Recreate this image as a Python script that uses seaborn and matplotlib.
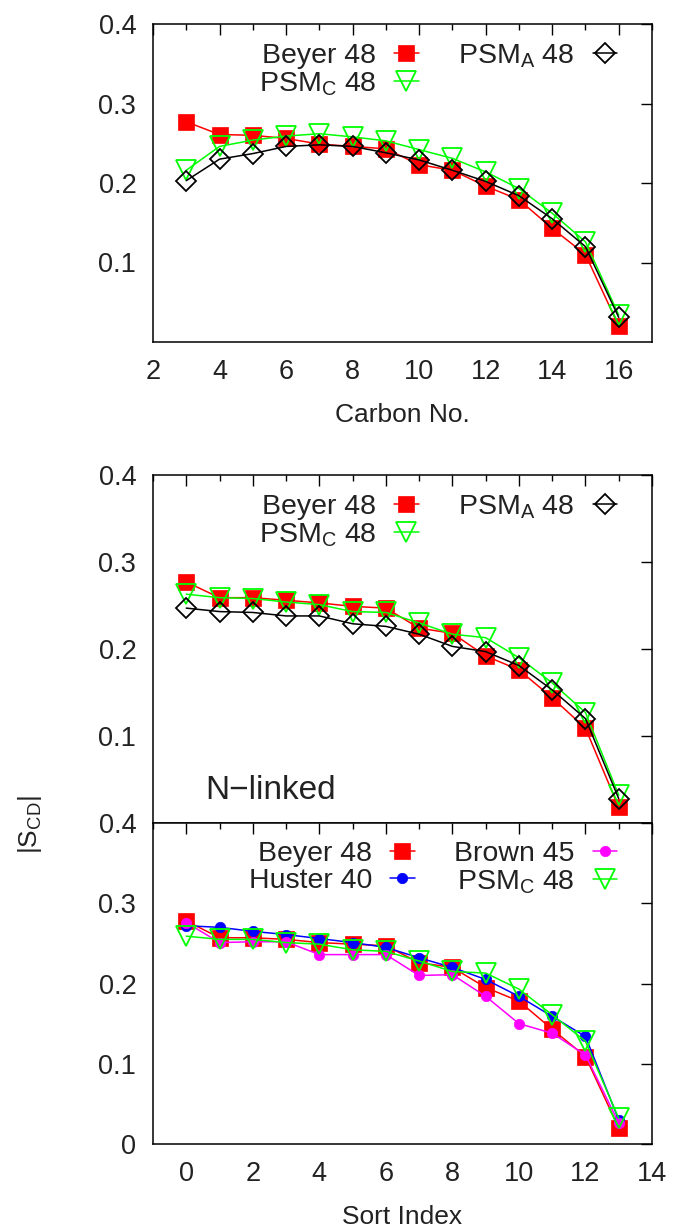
import numpy as np
import pandas as pd
import matplotlib
matplotlib.use("Agg")
import matplotlib.pyplot as plt
from matplotlib.ticker import MultipleLocator
import seaborn as sns

# ---------------- data ----------------
carbon_no = [3, 4, 5, 6, 7, 8, 9, 10, 11, 12, 13, 14, 15, 16]
top_beyer = [0.277, 0.261, 0.260, 0.256, 0.249, 0.246, 0.243, 0.223, 0.216, 0.196, 0.179, 0.143, 0.110, 0.020]
top_psmc = [0.216, 0.246, 0.254, 0.259, 0.262, 0.258, 0.253, 0.242, 0.231, 0.214, 0.193, 0.162, 0.126, 0.034]
top_psma = [0.203, 0.230, 0.237, 0.246, 0.248, 0.246, 0.238, 0.229, 0.216, 0.202, 0.184, 0.155, 0.120, 0.031]

sort_index = [0, 1, 2, 3, 4, 5, 6, 7, 8, 9, 10, 11, 12, 13]
mid_beyer = [0.277, 0.259, 0.259, 0.256, 0.253, 0.249, 0.247, 0.224, 0.218, 0.192, 0.176, 0.144, 0.109, 0.018]
mid_psmc = [0.263, 0.259, 0.258, 0.254, 0.251, 0.243, 0.242, 0.230, 0.217, 0.213, 0.190, 0.161, 0.127, 0.032]
mid_psma = [0.247, 0.243, 0.242, 0.238, 0.238, 0.229, 0.226, 0.217, 0.203, 0.197, 0.181, 0.153, 0.120, 0.028]

bot_beyer = [0.278, 0.257, 0.257, 0.255, 0.251, 0.249, 0.247, 0.226, 0.220, 0.195, 0.178, 0.143, 0.109, 0.020]
bot_huster = [0.272, 0.270, 0.265, 0.261, 0.256, 0.251, 0.245, 0.232, 0.220, 0.205, 0.184, 0.159, 0.134, 0.030]
bot_brown = [0.276, 0.251, 0.252, 0.252, 0.236, 0.236, 0.236, 0.210, 0.211, 0.184, 0.150, 0.138, 0.111, 0.026]
bot_psmc = [0.259, 0.255, 0.255, 0.251, 0.249, 0.242, 0.240, 0.228, 0.215, 0.213, 0.193, 0.161, 0.128, 0.032]

lbl_beyer = "Beyer 48"
lbl_psmc = r"PSM$_{\rm C}$ 48"
lbl_psma = r"PSM$_{\rm A}$ 48"
lbl_huster = "Huster 40"
lbl_brown = "Brown 45"

# ---------------- style ----------------
sns.set_theme(style="white")
plt.rcParams["font.family"] = ["Liberation Sans", "DejaVu Sans"]
plt.rcParams["mathtext.fontset"] = "custom"
plt.rcParams["mathtext.rm"] = "Liberation Sans"
plt.rcParams["mathtext.it"] = "Liberation Sans:italic"
plt.rcParams["mathtext.bf"] = "Liberation Sans:bold"
plt.rcParams["axes.edgecolor"] = "black"
plt.rcParams["axes.linewidth"] = 1.1
plt.rcParams["text.color"] = "#222222"
plt.rcParams["axes.labelcolor"] = "#222222"
plt.rcParams["xtick.color"] = "black"
plt.rcParams["ytick.color"] = "black"
plt.rcParams["xtick.labelcolor"] = "#222222"
plt.rcParams["ytick.labelcolor"] = "#222222"

W, H = 674, 1230
fig = plt.figure(figsize=(W / 100, H / 100), dpi=100)

def axes_px(left, top, right, bottom):
    return fig.add_axes([left / W, 1 - bottom / H, (right - left) / W, (bottom - top) / H])

ax_top = axes_px(153, 24, 652, 342)
ax_mid = axes_px(153, 475, 652, 823)
ax_bot = axes_px(153, 823, 652, 1144)

STY = {
    "beyer": dict(color="#ff0000", marker="s", markersize=11, markerfacecolor="#ff0000",
                  markeredgecolor="#ff0000", markeredgewidth=0.5, linewidth=1.1),
    "psmc": dict(color="#00ff00", marker="v", markersize=14, markerfacecolor="none",
                 markeredgecolor="#00ff00", markeredgewidth=1.3, linewidth=1.1),
    "psma": dict(color="black", marker="D", markersize=10.5, markerfacecolor="none",
                 markeredgecolor="black", markeredgewidth=1.3, linewidth=1.1),
    "huster": dict(color="#0000ff", marker="o", markersize=7.5, markerfacecolor="#0000ff",
                   markeredgecolor="#0000ff", markeredgewidth=0.5, linewidth=1.1),
    "brown": dict(color="#ff00ff", marker="o", markersize=7.5, markerfacecolor="#ff00ff",
                  markeredgecolor="#ff00ff", markeredgewidth=0.5, linewidth=1.1),
}

def draw(ax, x, y, key, label):
    df = pd.DataFrame({"x": x, "y": y})
    sns.lineplot(data=df, x="x", y="y", ax=ax, legend=False, label=label,
                 sort=False, estimator=None, **STY[key])

draw(ax_top, carbon_no, top_beyer, "beyer", lbl_beyer)
draw(ax_top, carbon_no, top_psmc, "psmc", lbl_psmc)
draw(ax_top, carbon_no, top_psma, "psma", lbl_psma)

draw(ax_mid, sort_index, mid_beyer, "beyer", lbl_beyer)
draw(ax_mid, sort_index, mid_psmc, "psmc", lbl_psmc)
draw(ax_mid, sort_index, mid_psma, "psma", lbl_psma)

draw(ax_bot, sort_index, bot_beyer, "beyer", lbl_beyer)
draw(ax_bot, sort_index, bot_huster, "huster", lbl_huster)
draw(ax_bot, sort_index, bot_brown, "brown", lbl_brown)
draw(ax_bot, sort_index, bot_psmc, "psmc", lbl_psmc)

TICK_FS = 19.5
for ax in (ax_top, ax_mid, ax_bot):
    ax.set_ylim(0, 0.4)
    ax.yaxis.set_major_locator(MultipleLocator(0.1))
    ax.xaxis.set_major_locator(MultipleLocator(2))
    ax.xaxis.set_minor_locator(MultipleLocator(1))
    ax.tick_params(which="both", direction="in", top=True, right=True,
                   labelsize=TICK_FS, width=1.0, pad=12)
    ax.tick_params(which="major", length=8)
    ax.tick_params(which="minor", length=4.5)
    ax.set_xlabel("")
    ax.set_ylabel("")
    for s in ax.spines.values():
        s.set_visible(True)
        s.set_color("black")

ax_top.set_xlim(2, 17)
ax_mid.set_xlim(-1, 14)
ax_bot.set_xlim(-1, 14)

ax_top.set_yticks([0.1, 0.2, 0.3, 0.4])
ax_mid.set_yticks([0.1, 0.2, 0.3, 0.4])
ax_bot.set_yticks([0, 0.1, 0.2, 0.3, 0.4])
ax_bot.set_yticklabels(["0", "0.1", "0.2", "0.3", "0.4"])
ax_top.set_xticks([2, 4, 6, 8, 10, 12, 14, 16])
ax_top.set_xticklabels([str(v) for v in [2, 4, 6, 8, 10, 12, 14, 16]])
ax_mid.tick_params(labelbottom=False)

ax_top.set_xlabel("Carbon No.", fontsize=19, labelpad=13)
ax_bot.set_xlabel("Sort Index", fontsize=19, labelpad=13)
fig.text(30 / W, 1 - 825 / H, r"|S$_{\rm CD}$|", rotation=90, fontsize=19,
         ha="center", va="center")

ax_mid.text(0.57, 0.037, "N\u2212linked", fontsize=24, ha="left", va="center")

LEG = dict(ncol=2, markerfirst=False, frameon=False, fontsize=20.5,
           handlelength=0.85, handletextpad=0.63, columnspacing=1.4,
           labelspacing=0.04, borderpad=0, borderaxespad=0, loc="upper right")
for ax in (ax_top, ax_mid, ax_bot):
    h_px = ax.get_position().height * H
    ax.legend(bbox_to_anchor=(0.93, 1 - 18 / h_px), **LEG)

fig.savefig("out.png", dpi=100)
